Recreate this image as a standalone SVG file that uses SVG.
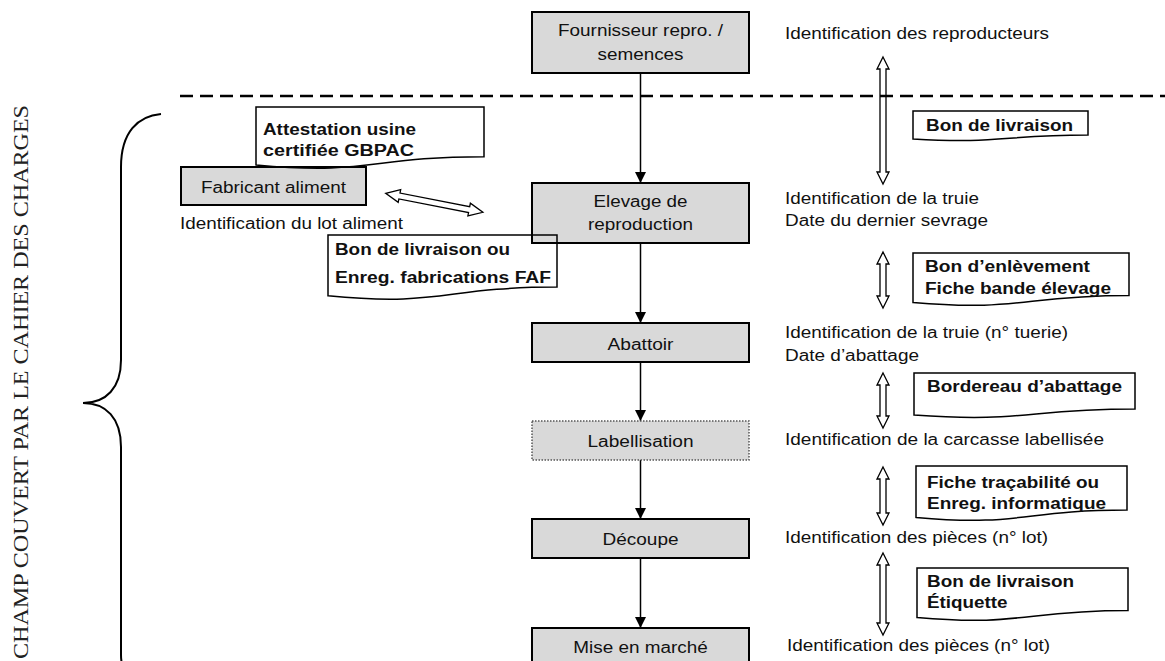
<svg xmlns="http://www.w3.org/2000/svg" width="1165" height="661" viewBox="0 0 1165 661">
<defs>
<style>
.box{fill:#d9d9d9;stroke:#000;stroke-width:2}
.boxdot{fill:#d9d9d9;stroke:#555;stroke-width:1.5;stroke-dasharray:1.5 1.5}
.t{font-family:"Liberation Sans",Arial,sans-serif;font-size:16px;fill:#111}
.b{font-weight:bold}
.doc{fill:none;stroke:#000;stroke-width:1.5}
.dbl{fill:#fff;stroke:#000;stroke-width:1.3;stroke-linejoin:miter}
.conn{stroke:#000;stroke-width:1.5;fill:none}
.brace{fill:none;stroke:#000;stroke-width:2}
.dash{stroke:#000;stroke-width:2.5;stroke-dasharray:13 7;fill:none}
.vt{font-family:"Liberation Serif","Times New Roman",serif;font-size:22px;fill:#222}
</style>
<marker id="ah" markerUnits="userSpaceOnUse" markerWidth="11" markerHeight="11" refX="11" refY="5.5" orient="auto">
<path d="M0,0 L11,5.5 L0,11 Z" fill="#000"/>
</marker>
</defs>
<rect width="1165" height="661" fill="#fff"/>

<text class="vt" transform="translate(27.5,659) rotate(-90)" textLength="554" lengthAdjust="spacingAndGlyphs">CHAMP COUVERT PAR LE CAHIER DES CHARGES</text>
<path class="brace" d="M161,114 C138,116 121,132 121,167 L121,360 C121,388 106,403 83,403 C106,403 121,418 121,447 L121,655 C121,665 124,672 130,676"/>

<g id="connectors">
<line class="conn" x1="640.5" y1="73" x2="640.5" y2="183" marker-end="url(#ah)"/>
<line class="conn" x1="640.5" y1="243" x2="640.5" y2="323" marker-end="url(#ah)"/>
<line class="conn" x1="640.5" y1="362" x2="640.5" y2="421" marker-end="url(#ah)"/>
<line class="conn" x1="640.5" y1="460" x2="640.5" y2="519" marker-end="url(#ah)"/>
<line class="conn" x1="640.5" y1="558" x2="640.5" y2="628" marker-end="url(#ah)"/>
<polygon class="dbl" points="883,57 889,69 886,69 886,172 889,172 883,184 877,172 880,172 880,69 877,69"/>
<polygon class="dbl" points="883,252 889,264 886,264 886,296 889,296 883,308 877,296 880,296 880,264 877,264"/>
<polygon class="dbl" points="883,373 889,385 886,385 886,416 889,416 883,428 877,416 880,416 880,385 877,385"/>
<polygon class="dbl" points="883,467 889,479 886,479 886,513 889,513 883,525 877,513 880,513 880,479 877,479"/>
<polygon class="dbl" points="883,553 889,565 886,565 886,623 889,623 883,635 877,623 880,623 880,565 877,565"/>
<path class="dbl" transform="translate(385.7,193.3) rotate(11.05)" d="M0,0 L14,-6.5 L14,-3 L85,-3 L85,-6.5 L99,0 L85,6.5 L85,3 L14,3 L14,6.5 Z"/>
</g>

<line class="dash" x1="180" y1="96" x2="1165" y2="96"/>

<g id="n-fournisseur">
<rect class="box" x="532" y="12" width="217" height="61"/>
<text class="t" x="640.5" y="36" text-anchor="middle" textLength="165" lengthAdjust="spacingAndGlyphs">Fournisseur repro. /</text>
<text class="t" x="640.5" y="60" text-anchor="middle" textLength="86" lengthAdjust="spacingAndGlyphs">semences</text>
</g>
<g id="n-elevage">
<rect class="box" x="532" y="183" width="217" height="60"/>
<text class="t" x="640.5" y="207" text-anchor="middle" textLength="94" lengthAdjust="spacingAndGlyphs">Elevage de</text>
<text class="t" x="640.5" y="230" text-anchor="middle" textLength="105" lengthAdjust="spacingAndGlyphs">reproduction</text>
</g>
<g id="n-abattoir">
<rect class="box" x="532" y="323" width="217" height="39"/>
<text class="t" x="640.5" y="350" text-anchor="middle" textLength="66" lengthAdjust="spacingAndGlyphs">Abattoir</text>
</g>
<g id="n-labellisation">
<rect class="boxdot" x="532" y="421" width="217" height="39"/>
<text class="t" x="640.5" y="447" text-anchor="middle" textLength="106" lengthAdjust="spacingAndGlyphs">Labellisation</text>
</g>
<g id="n-decoupe">
<rect class="box" x="532" y="519" width="217" height="39"/>
<text class="t" x="640.5" y="545" text-anchor="middle" textLength="76" lengthAdjust="spacingAndGlyphs">Découpe</text>
</g>
<g id="n-mise">
<rect class="box" x="532" y="628" width="217" height="45"/>
<text class="t" x="640.5" y="653" text-anchor="middle" textLength="134.5" lengthAdjust="spacingAndGlyphs">Mise en marché</text>
</g>
<g id="n-fabricant">
<rect class="box" x="181" y="167" width="185" height="38"/>
<text class="t" x="273.5" y="193" text-anchor="middle" textLength="145" lengthAdjust="spacingAndGlyphs">Fabricant aliment</text>
<text class="t" x="180" y="229" textLength="223" lengthAdjust="spacingAndGlyphs">Identification du lot aliment</text>
</g>

<g id="doc-attestation">
<path class="doc" d="M256,107 H484 V156.7 C370,156.7 370,175.7 256,164.9 Z"/>
<text class="t b" x="263" y="135" textLength="153" lengthAdjust="spacingAndGlyphs">Attestation usine</text>
<text class="t b" x="263" y="156" textLength="151" lengthAdjust="spacingAndGlyphs">certifiée GBPAC</text>
</g>
<g id="doc-faf">
<path class="doc" d="M328,235 H557 V287.1 C442.5,287.1 442.5,307 328,295.7 Z"/>
<text class="t b" x="335" y="255" textLength="175" lengthAdjust="spacingAndGlyphs">Bon de livraison ou</text>
<text class="t b" x="335" y="283" textLength="216" lengthAdjust="spacingAndGlyphs">Enreg. fabrications FAF</text>
</g>
<g id="doc-livraison">
<path class="doc" d="M913,111 H1088 V135.1 C1000.5,135.1 1000.5,144.2 913,139 Z"/>
<text class="t b" x="926" y="131" textLength="147" lengthAdjust="spacingAndGlyphs">Bon de livraison</text>
</g>
<g id="doc-enlevement">
<path class="doc" d="M913,253 H1129 V295.5 C1021,295.5 1021,311.7 913,302.5 Z"/>
<text class="t b" x="925" y="272" textLength="165" lengthAdjust="spacingAndGlyphs">Bon d’enlèvement</text>
<text class="t b" x="925" y="294" textLength="186" lengthAdjust="spacingAndGlyphs">Fiche bande élevage</text>
</g>
<g id="doc-bordereau">
<path class="doc" d="M914,373 H1135 V409.1 C1024.5,409.1 1024.5,422.8 914,415 Z"/>
<text class="t b" x="927" y="392" textLength="195" lengthAdjust="spacingAndGlyphs">Bordereau d’abattage</text>
</g>
<g id="doc-tracabilite">
<path class="doc" d="M916,466 H1127 V510.1 C1021.5,510.1 1021.5,526.9 916,517.4 Z"/>
<text class="t b" x="927" y="488" textLength="172" lengthAdjust="spacingAndGlyphs">Fiche traçabilité ou</text>
<text class="t b" x="927" y="509" textLength="179" lengthAdjust="spacingAndGlyphs">Enreg. informatique</text>
</g>
<g id="doc-etiquette">
<path class="doc" d="M917,568 H1128 V610.5 C1022.5,610.5 1022.5,626.7 917,617.5 Z"/>
<text class="t b" x="927" y="587" textLength="147" lengthAdjust="spacingAndGlyphs">Bon de livraison</text>
<text class="t b" x="927" y="608" textLength="80.5" lengthAdjust="spacingAndGlyphs">Étiquette</text>
</g>

<g id="labels-right">
<text class="t" x="785" y="39" textLength="264" lengthAdjust="spacingAndGlyphs">Identification des reproducteurs</text>
<text class="t" x="785" y="204" textLength="194" lengthAdjust="spacingAndGlyphs">Identification de la truie</text>
<text class="t" x="785" y="226" textLength="203" lengthAdjust="spacingAndGlyphs">Date du dernier sevrage</text>
<text class="t" x="785" y="338" textLength="283" lengthAdjust="spacingAndGlyphs">Identification de la truie (n° tuerie)</text>
<text class="t" x="785" y="361" textLength="134" lengthAdjust="spacingAndGlyphs">Date d’abattage</text>
<text class="t" x="785" y="445" textLength="319" lengthAdjust="spacingAndGlyphs">Identification de la carcasse labellisée</text>
<text class="t" x="785" y="543" textLength="263" lengthAdjust="spacingAndGlyphs">Identification des pièces (n° lot)</text>
<text class="t" x="787" y="651" textLength="263" lengthAdjust="spacingAndGlyphs">Identification des pièces (n° lot)</text>
</g>
</svg>
